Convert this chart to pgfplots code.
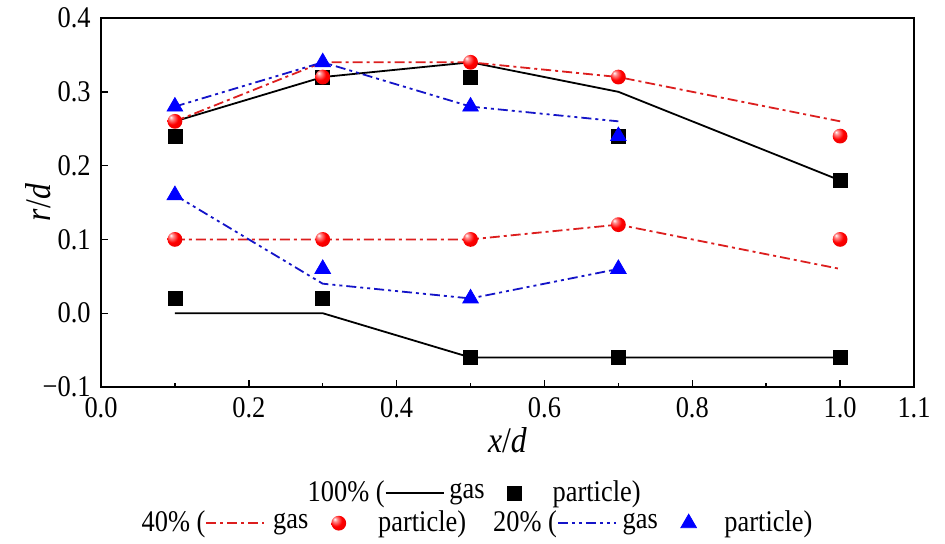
\documentclass[border=0pt]{standalone}
\usepackage{fontspec}
\setmainfont{Liberation Serif}[FakeStretch=0.88]
\usepackage{pgfplots}
\pgfplotsset{compat=1.18}
\definecolor{lred}{RGB}{220,30,30}
\definecolor{lblue}{RGB}{20,20,200}
\pgfdeclareradialshading{redballshade}{\pgfqpoint{-14bp}{14bp}}{color(0bp)=(white); color(7bp)=(red!45!white); color(20bp)=(red); color(42bp)=(red!88!black); color(60bp)=(red!75!black)}
\pgfdeclareplotmark{rball}{\pgfpathcircle{\pgfpointorigin}{\pgfplotmarksize}\pgfshadepath{redballshade}{0}\pgfusepath{discard}}
\pgfplotsset{
  linelegend/.style={legend image code/.code={\draw[##1] (0pt,0pt) -- (29pt,0pt);}},
  marklegend/.style={legend image code/.code={\draw[##1] plot coordinates {(0pt,0pt)};}},
  redline/.style={lred, line width=0.9pt, dash pattern=on 5pt off 2pt on 1.5pt off 2pt},
  blueline/.style={lblue, line width=0.9pt, dash pattern=on 5pt off 2pt on 1.5pt off 2pt on 1.5pt off 2pt},
  blackline/.style={black, line width=0.9pt},
  sqmark/.style={only marks, mark=square*, mark size=3.5pt, black},
  ballmark/.style={only marks, mark=rball, mark size=3.7pt, red},
  trimark/.style={only marks, mark=triangle*, mark size=4.5pt, blue},
}
\begin{document}
\rmfamily\fontsize{15}{18}\selectfont
\begin{tikzpicture}
\path[use as bounding box] (-50.5pt,-78pt) rectangle (422pt,193.5pt);
\begin{axis}[
  scale only axis, width=406.5pt, height=184.5pt,
  xmin=0, xmax=1.1, ymin=-0.1, ymax=0.4,
  axis line style={line width=0.9pt},
  tick align=inside, xtick pos=bottom, ytick pos=left,
  major tick length=3.5pt, minor tick length=1.8pt,
  tick style={line width=0.7pt, black},
  xtick={0,0.2,0.4,0.6,0.8,1.0,1.1},
  xticklabels={0.0,0.2,0.4,0.6,0.8,1.0,1.1},
  minor xtick={0.1,0.3,0.5,0.7,0.9},
  ytick={-0.1,0,0.1,0.2,0.3,0.4},
  yticklabels={−0.1,0.0,0.1,0.2,0.3,0.4},
  ticklabel style={font=\rmfamily\fontsize{15}{18}\selectfont},
  xlabel={\textit{x}/\textit{d}}, ylabel={\textit{r}/\textit{d}},
  label style={font=\rmfamily\fontsize{18}{21}\selectfont},
  xlabel style={at={(axis description cs:0.5,-0.1436)}, anchor=center},
  ylabel style={at={(axis description cs:-0.0775,0.5)}, anchor=center, rotate=0},
  legend style={draw=none, fill=none, at={(0.459,-0.287)}, anchor=center,
    font=\rmfamily\fontsize{15}{18}\selectfont, column sep=0pt,
    nodes={inner xsep=0pt}},
  legend columns=3,
  legend cell align=left,
]
% legend row 1
\addlegendimage{empty legend}\addlegendentry{100\% (}
\addlegendimage{linelegend, blackline}\addlegendentry{\kern2.5pt gas\kern11.5pt}
\addlegendimage{marklegend, sqmark}\addlegendentry{\kern15.5pt particle)}
% 100% gas
\addplot[blackline, forget plot] coordinates {(0.1,0.26) (0.3,0.32) (0.5,0.34) (0.7,0.30) (1.0,0.18)};
\addplot[blackline, forget plot] coordinates {(0.1,0.0) (0.3,0.0) (0.5,-0.06) (0.7,-0.06) (1.0,-0.06)};
% 40% gas
\addplot[redline, forget plot] coordinates {(0.1,0.26) (0.3,0.34) (0.5,0.34) (0.7,0.32) (1.0,0.26)};
\addplot[redline, forget plot] coordinates {(0.1,0.10) (0.3,0.10) (0.5,0.10) (0.7,0.12) (1.0,0.06)};
% 20% gas
\addplot[blueline, forget plot] coordinates {(0.1,0.28) (0.3,0.34) (0.5,0.28) (0.7,0.26)};
\addplot[blueline, forget plot] coordinates {(0.1,0.16) (0.3,0.04) (0.5,0.02) (0.7,0.06)};
% 100% particle
\addplot[sqmark, forget plot] coordinates {(0.1,0.24) (0.3,0.32) (0.5,0.32) (0.7,0.24) (1.0,0.18) (0.1,0.02) (0.3,0.02) (0.5,-0.06) (0.7,-0.06) (1.0,-0.06)};
% 40% particle
\addplot[ballmark, forget plot] coordinates {(0.1,0.26) (0.3,0.32) (0.5,0.34) (0.7,0.32) (1.0,0.24) (0.1,0.10) (0.3,0.10) (0.5,0.10) (0.7,0.12) (1.0,0.10)};
% 20% particle
\addplot[trimark, forget plot] coordinates {(0.1,0.28) (0.3,0.34) (0.5,0.28) (0.7,0.24) (0.1,0.16) (0.3,0.06) (0.5,0.02) (0.7,0.06)};
\end{axis}
\begin{axis}[
  scale only axis, width=406.5pt, height=184.5pt, hide axis,
  xmin=0, xmax=1, ymin=0, ymax=1,
  legend style={draw=none, fill=none, at={(0.4625,-0.369)}, anchor=center,
    font=\rmfamily\fontsize{15}{18}\selectfont, column sep=0pt,
    nodes={inner xsep=0pt}},
  legend columns=6,
  legend cell align=left,
]
\addlegendimage{empty legend}\addlegendentry{40\% (}
\addlegendimage{linelegend, redline}\addlegendentry{\kern4pt gas\kern11.5pt}
\addlegendimage{marklegend, ballmark}\addlegendentry{\kern16pt particle)\kern13.5pt}
\addlegendimage{empty legend}\addlegendentry{20\% (}
\addlegendimage{linelegend, blueline}\addlegendentry{\kern3pt gas\kern11.5pt}
\addlegendimage{marklegend, trimark}\addlegendentry{\kern14pt particle)}
\end{axis}
\end{tikzpicture}
\end{document}
